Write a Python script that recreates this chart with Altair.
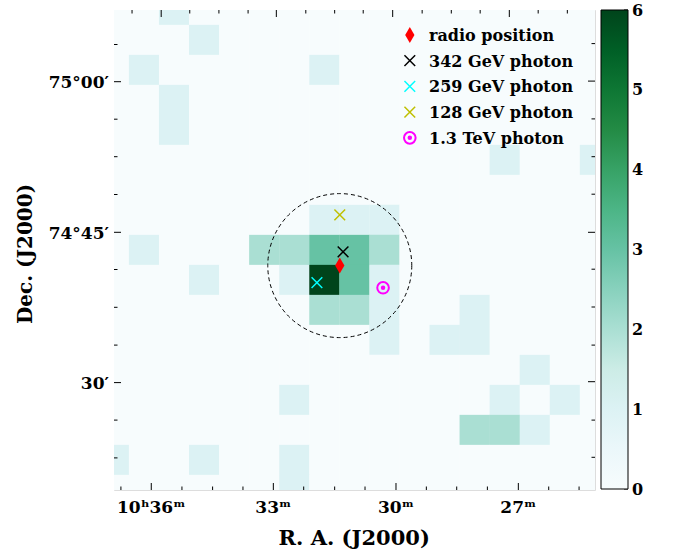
import altair as alt
import pandas as pd

# ---------------- data ----------------
# photon counts per pixel, rows top -> bottom, columns left -> right
COUNTS = [
    [0, 0, 1, 0, 0, 0, 0, 0, 0, 0, 0, 0, 0, 0, 0, 0, 0],
    [0, 0, 0, 1, 0, 0, 0, 0, 0, 0, 0, 0, 0, 0, 0, 0, 0],
    [0, 1, 0, 0, 0, 0, 0, 1, 0, 0, 0, 0, 0, 0, 0, 0, 0],
    [0, 0, 1, 0, 0, 0, 0, 0, 0, 0, 0, 0, 0, 0, 0, 0, 0],
    [0, 0, 1, 0, 0, 0, 0, 0, 0, 0, 0, 0, 0, 0, 0, 0, 0],
    [0, 0, 0, 0, 0, 0, 0, 0, 0, 0, 0, 0, 0, 1, 0, 0, 1],
    [0, 0, 0, 0, 0, 0, 0, 0, 0, 0, 0, 0, 0, 0, 0, 0, 0],
    [0, 0, 0, 0, 0, 0, 0, 1, 1, 1, 0, 0, 0, 0, 0, 0, 0],
    [0, 1, 0, 0, 0, 2, 2, 3, 3, 2, 0, 0, 0, 0, 0, 0, 0],
    [0, 0, 0, 1, 0, 0, 1, 6, 3, 1, 0, 0, 0, 0, 0, 0, 0],
    [0, 0, 0, 0, 0, 0, 0, 2, 2, 1, 0, 0, 1, 0, 0, 0, 0],
    [0, 0, 0, 0, 0, 0, 0, 0, 0, 1, 0, 1, 1, 0, 0, 0, 0],
    [0, 0, 0, 0, 0, 0, 0, 0, 0, 0, 0, 0, 0, 0, 1, 0, 0],
    [0, 0, 0, 0, 0, 0, 1, 0, 0, 0, 0, 0, 0, 1, 0, 1, 0],
    [0, 0, 0, 0, 0, 0, 0, 0, 0, 0, 0, 0, 2, 2, 1, 0, 0],
    [1, 0, 0, 1, 0, 0, 1, 0, 0, 0, 0, 0, 0, 0, 0, 0, 0],
    [0, 0, 0, 0, 0, 0, 1, 0, 0, 0, 0, 0, 0, 0, 0, 0, 0],
]

# marker positions in map-pixel units (column, row)
RADIO_POS = (7.51, 8.52)
PHOTON_342 = (7.62, 8.06)
PHOTON_259 = (6.75, 9.09)
PHOTON_128 = (7.51, 6.83)
PHOTON_1300 = (8.95, 9.26)

LEGEND_LABELS = ["radio position", "342 GeV photon", "259 GeV photon",
                 "128 GeV photon", "1.3 TeV photon"]

# axis ticks (map-pixel units) and their labels
RA_BOTTOM_MAJOR = [1.24, 5.30, 9.38, 13.45]
RA_BOTTOM_LABELS = ["10ʰ36ᵐ", "33ᵐ", "30ᵐ", "27ᵐ"]
RA_BOTTOM_MINOR = [0.23, 2.26, 3.28, 4.29, 6.31, 7.34, 8.35, 10.39, 11.40, 12.42, 14.46, 15.47]
RA_TOP_MAJOR = [1.57, 5.40, 9.27, 13.15]
RA_TOP_MINOR = [0.60, 2.52, 3.49, 4.46, 6.38, 7.34, 8.29, 10.25, 11.22, 12.18, 14.11, 15.08]
DEC_LEFT_MAJOR = [2.39, 7.41, 12.42]
DEC_LEFT_LABELS = ["75°00′", "74°45′", "30′"]
DEC_LEFT_MINOR = [1.15, 3.64, 4.89, 6.15, 8.65, 9.91, 11.17, 13.67, 14.93]
DEC_RIGHT_MAJOR = [2.37, 7.41, 12.39]
DEC_RIGHT_MINOR = [1.12, 3.63, 4.89, 6.14, 8.64, 9.90, 11.17, 13.67, 14.91]

X_TITLE = "R. A. (J2000)"
Y_TITLE = "Dec. (J2000)"

CBAR_TICKS = [0, 1, 2, 3, 4, 5, 6]
BUGN = ["#f7fcfd", "#e5f5f9", "#ccece6", "#99d8c9", "#66c2a4",
        "#41ae76", "#238b45", "#006d2c", "#00441b"]
BUGN_STOPS = [0, 0.75, 1.5, 2.25, 3.0, 3.75, 4.5, 5.25, 6.0]

# ---------------- layout / style ----------------
W, H = 481, 480
FONT = "DejaVu Serif"
LEG_U, LEG_TEXT_U, LEG_V0, LEG_STEP = 9.84, 10.48, 0.83, 0.858
CBAR_X, CBAR_W, CBAR_LEN = 487, 27, 479

cells = pd.DataFrame(
    [{"col": c, "row": r, "count": v}
     for r, line in enumerate(COUNTS) for c, v in enumerate(line)]
)

xs = alt.Scale(domain=[0, 16], nice=False, zero=False)
ys = alt.Scale(domain=[0, 16], nice=False, zero=False, reverse=True)


def X(f, **kw):
    return alt.X(f, type="quantitative", scale=xs, axis=None, **kw)


def Y(f, **kw):
    return alt.Y(f, type="quantitative", scale=ys, axis=None, **kw)


heat = alt.Chart(cells).transform_calculate(
    x0="datum.col - 0.505", x1="datum.col + 0.505",
    y0="datum.row - 0.505", y1="datum.row + 0.505",
).mark_rect(clip=True, strokeWidth=0).encode(
    x=X("x0"), x2="x1:Q", y=Y("y0"), y2="y1:Q",
    color=alt.Color("count:Q", scale=alt.Scale(domain=BUGN_STOPS, range=BUGN),
                    legend=alt.Legend(
                        type="gradient",
                        orient="none", legendX=CBAR_X, legendY=0, direction="vertical",
                        title=None, gradientLength=CBAR_LEN, gradientThickness=CBAR_W,
                        values=CBAR_TICKS, padding=0, labelExpr="''",
                        labelFontSize=1, labelOffset=0,
                        gradientStrokeColor="black", gradientStrokeWidth=1)),
)


def ticks_x(vals, side, length):
    df = pd.DataFrame({"u": vals})
    if side == "bottom":
        y0, y1 = H - length, H
    else:
        y0, y1 = 0, length
    return alt.Chart(df).mark_rule(color="black", strokeWidth=1).encode(
        x=X("u"), y=alt.value(y0), y2=alt.value(y1))


def ticks_y(vals, side, length):
    df = pd.DataFrame({"v": vals})
    if side == "left":
        x0, x1 = 0, length
    else:
        x0, x1 = W - length, W
    return alt.Chart(df).mark_rule(color="black", strokeWidth=1).encode(
        y=Y("v"), x=alt.value(x0), x2=alt.value(x1))


MAJ, MIN = 7, 3.5
tick_layers = [
    ticks_x(RA_BOTTOM_MAJOR, "bottom", MAJ), ticks_x(RA_BOTTOM_MINOR, "bottom", MIN),
    ticks_x(RA_TOP_MAJOR, "top", MAJ), ticks_x(RA_TOP_MINOR, "top", MIN),
    ticks_y(DEC_LEFT_MAJOR, "left", MAJ), ticks_y(DEC_LEFT_MINOR, "left", MIN),
    ticks_y(DEC_RIGHT_MAJOR, "right", MAJ), ticks_y(DEC_RIGHT_MINOR, "right", MIN),
]

ra_labels = alt.Chart(pd.DataFrame({"u": RA_BOTTOM_MAJOR, "t": RA_BOTTOM_LABELS})).mark_text(
    font=FONT, fontSize=17, fontWeight="bold", color="black",
    align="center", baseline="alphabetic").encode(
    x=X("u"), y=alt.value(H + 23), text="t:N")

dec_labels = alt.Chart(pd.DataFrame({"v": DEC_LEFT_MAJOR, "t": DEC_LEFT_LABELS})).mark_text(
    font=FONT, fontSize=17, fontWeight="bold", color="black",
    align="right", baseline="alphabetic", dy=6.5).encode(
    y=Y("v"), x=alt.value(-5), text="t:N")

xtitle = alt.Chart(pd.DataFrame({"t": [X_TITLE]})).mark_text(
    font=FONT, fontSize=21, fontWeight="bold", color="black",
    align="center", baseline="alphabetic").encode(
    x=alt.value(240.2), y=alt.value(H + 55), text="t:N")
ytitle = alt.Chart(pd.DataFrame({"t": [Y_TITLE]})).mark_text(
    font=FONT, fontSize=20, fontWeight="bold", color="black", angle=270,
    align="center", baseline="alphabetic").encode(
    x=alt.value(-82.5), y=alt.value(244), text="t:N")

# ---------------- markers (map position + legend position) ----------------
leg_v = [LEG_V0 + i * LEG_STEP for i in range(len(LEGEND_LABELS))]


def pts(pos, i):
    return pd.DataFrame({"u": [pos[0], LEG_U], "v": [pos[1], leg_v[i]]})


DIAMOND = "M0,-1L0.58,0L0,1L-0.58,0Z"
XSHAPE = "M-1,-1L1,1M-1,1L1,-1"

circle = alt.Chart(pd.DataFrame({"u": [RADIO_POS[0]], "v": [RADIO_POS[1]]})).mark_point(
    shape="circle", size=144 * 144, filled=False, color="black", strokeWidth=1,
    strokeDash=[4, 3], opacity=1).encode(x=X("u"), y=Y("v"))

radio = alt.Chart(pts(RADIO_POS, 0)).mark_point(
    shape=DIAMOND, size=256, filled=True, color="#ff0000", opacity=1,
    strokeWidth=0).encode(x=X("u"), y=Y("v"))


def xmark(pos, i, colr):
    return alt.Chart(pts(pos, i)).mark_point(
        shape=XSHAPE, size=115, filled=False, color=colr, strokeWidth=1.5,
        opacity=1).encode(x=X("u"), y=Y("v"))


x342 = xmark(PHOTON_342, 1, "black")
x259 = xmark(PHOTON_259, 2, "#00ffff")
x128 = xmark(PHOTON_128, 3, "#bfbf00")

tev_ring = alt.Chart(pts(PHOTON_1300, 4)).mark_point(
    shape="circle", size=135, filled=False, color="#ff00ff", strokeWidth=2,
    opacity=1).encode(x=X("u"), y=Y("v"))
tev_dot = alt.Chart(pts(PHOTON_1300, 4)).mark_point(
    shape="circle", size=20, filled=True, color="#ff00ff", strokeWidth=0,
    opacity=1).encode(x=X("u"), y=Y("v"))

legend_text = alt.Chart(pd.DataFrame({
    "u": [LEG_TEXT_U] * len(LEGEND_LABELS), "v": leg_v, "t": LEGEND_LABELS
})).mark_text(font=FONT, fontSize=16, fontWeight="bold", color="black",
              align="left", baseline="middle", dy=1).encode(
    x=X("u"), y=Y("v"), text="t:N")

main = alt.layer(
    heat, circle, radio, x342, x259, x128, tev_ring, tev_dot, legend_text,
    *tick_layers, ra_labels, dec_labels, xtitle, ytitle,
)

# colour-bar ticks and labels, on the colour bar's own value scale
cscale = alt.Scale(domain=[0, 6], range=[CBAR_LEN, 0], nice=False, zero=False)
cbar_df = pd.DataFrame({"k": CBAR_TICKS})
cbar_ticks = alt.Chart(cbar_df).mark_rule(color="black", strokeWidth=1).encode(
    y=alt.Y("k:Q", scale=cscale, axis=None),
    x=alt.value(CBAR_X + CBAR_W - 4), x2=alt.value(CBAR_X + CBAR_W),
)
cbar_labels = alt.Chart(cbar_df).mark_text(
    font=FONT, fontSize=16, fontWeight="bold", color="black",
    align="left", baseline="middle", dy=0.5).encode(
    y=alt.Y("k:Q", scale=cscale, axis=None),
    x=alt.value(CBAR_X + CBAR_W + 4), text="k:Q",
)

chart = alt.layer(main, alt.layer(cbar_ticks, cbar_labels)).resolve_scale(
    y="independent").properties(
    width=W, height=H, autosize="none",
    padding={"left": 114, "top": 10, "right": 78, "bottom": 63},
).configure_view(stroke="black", strokeWidth=1).configure(background="white")

chart.save("out.html", embed_options={"renderer": "svg", "actions": False})
